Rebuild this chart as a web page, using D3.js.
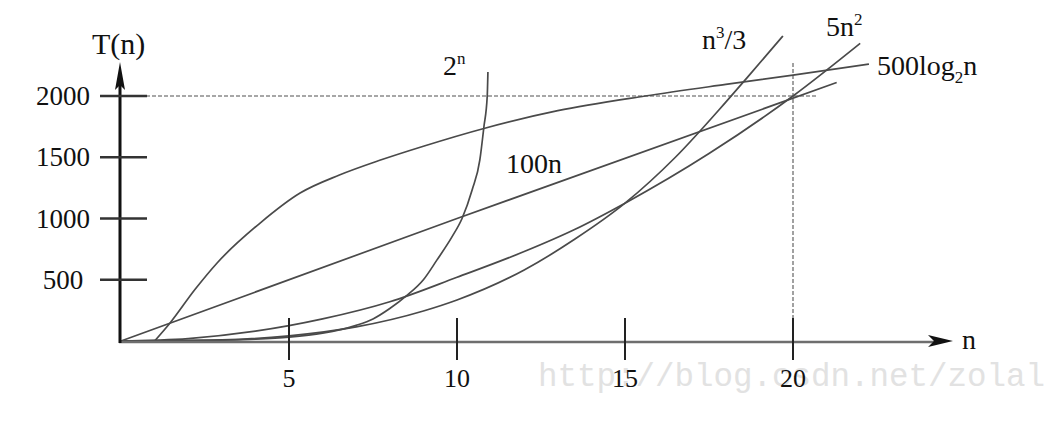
<!DOCTYPE html>
<html><head><meta charset="utf-8">
<script src="https://cdn.jsdelivr.net/npm/d3@7"></script>
<style>
html,body{margin:0;padding:0;background:#fff;}
svg{display:block;}
text{font-family:"Liberation Serif","Times New Roman",serif;fill:#111;}
</style></head>
<body>
<svg id="chart" width="1060" height="422"></svg>
<script>
// ---- data ----
const xTicks = [5, 10, 15, 20];
const yTicks = [500, 1000, 1500, 2000];

const nLog = [1, 1.46, 2.2, 2.86, 4.14, 5.33, 6.5, 7.7, 9, 10.8, 13, 15.6, 18, 20, 22.26];
const tLog = [0, 147, 420, 637, 963, 1208, 1355, 1475, 1590, 1735, 1880, 2000, 2095, 2171, 2261];

const nLin = [0, 10, 21.3];
const tLin = [0, 1000, 2110];

const nSq = [0, 2, 4, 5, 6, 8, 10, 12, 13.5, 15, 17.5, 20, 22];
const tSq = [0, 20, 80, 125, 180, 320, 520, 730, 910, 1125, 1530, 2000, 2430];

const nCube = [0, 3, 5, 7, 9, 10, 12, 13.5, 15, 16.5, 18, 18.7, 19.7];
const tCube = [0, 9, 42, 115, 245, 335, 580, 830, 1125, 1500, 1950, 2170, 2490];

const nExp = [0, 2, 4, 5, 6, 7, 7.5, 8, 8.5, 9, 9.4, 9.85, 10.15, 10.45, 10.68, 10.8, 10.9, 10.92];
const tExp = [1, 4, 16, 32, 64, 128, 180, 265, 370, 500, 660, 850, 1000, 1233, 1478, 1747, 2000, 2196];

// ---- drawing ----
const svg = d3.select("#chart");
const x = d3.scaleLinear().domain([0, 20]).range([121, 793]);
const y = d3.scaleLinear().domain([0, 2000]).range([341, 96]);

// watermark (sits behind everything, as in the source image)
svg.append("text").attr("x", 538).attr("y", 386)
  .attr("textLength", 507).attr("lengthAdjust", "spacingAndGlyphs")
  .style("font-family", "'Liberation Mono', monospace").style("font-size", "34px")
  .style("fill", "#e2e2e2").text("http://blog.csdn.net/zolal");

// dotted guides
svg.append("line").attr("x1", 128).attr("x2", 817).attr("y1", y(2000)).attr("y2", y(2000))
  .attr("stroke", "#8a8a8a").attr("stroke-width", 1.6).attr("stroke-dasharray", "4,2");
svg.append("line").attr("x1", x(20)).attr("x2", x(20)).attr("y1", 63).attr("y2", 318)
  .attr("stroke", "#8a8a8a").attr("stroke-width", 1.6).attr("stroke-dasharray", "4,2");

// curves
const series = [[nLog, tLog], [nLin, tLin], [nSq, tSq], [nCube, tCube], [nExp, tExp]];
const line = d3.line().x(d => x(d[0])).y(d => y(d[1])).curve(d3.curveMonotoneX);
series.forEach(([ns, ts]) => {
  svg.append("path").datum(ns.map((n, i) => [n, ts[i]]))
    .attr("d", line).attr("fill", "none").attr("stroke", "#4a4a4a").attr("stroke-width", 1.7);
});

// x axis
svg.append("line").attr("x1", 119).attr("x2", 940).attr("y1", 342).attr("y2", 342)
  .attr("stroke", "#6e6e6e").attr("stroke-width", 2.6);
svg.append("path").attr("d", "M953,341 L928,335 L934,341 L928,347 Z").attr("fill", "#111");
svg.append("text").attr("x", 962).attr("y", 349).style("font-size", "28px").text("n");

// x ticks
const gx = svg.append("g");
xTicks.forEach(t => {
  gx.append("line").attr("x1", x(t)).attr("x2", x(t)).attr("y1", 318).attr("y2", 360)
    .attr("stroke", "#222").attr("stroke-width", 2);
  gx.append("text").attr("x", x(t)).attr("y", 387).attr("text-anchor", "middle")
    .style("font-size", "26px").text(t);
});

// y axis
svg.append("line").attr("x1", 120).attr("x2", 120).attr("y1", 343).attr("y2", 78)
  .attr("stroke", "#111").attr("stroke-width", 3);
svg.append("path").attr("d", "M120,62 L125,90 L120,85 L115,90 Z").attr("fill", "#111");
svg.append("text").attr("x", 92).attr("y", 54).style("font-size", "30px").text("T(n)");

const gy = svg.append("g");
yTicks.forEach(t => {
  gy.append("line").attr("x1", 100).attr("x2", 147).attr("y1", y(t)).attr("y2", y(t))
    .attr("stroke", "#333").attr("stroke-width", 2.4);
  gy.append("text").attr("x", 63).attr("y", y(t) + 9).attr("text-anchor", "middle")
    .style("font-size", "27px").text(t);
});

// curve labels
function label(xp, yp, parts) {
  const t = svg.append("text").attr("x", xp).attr("y", yp).style("font-size", "28px");
  parts.forEach(p => {
    const s = t.append("tspan").text(p.t);
    if (p.sup) s.attr("dy", -11).style("font-size", "17px");
    if (p.sub) s.attr("dy", 8).style("font-size", "17px");
    if (p.back) s.attr("dy", p.back);
  });
}
label(443, 75, [{t: "2"}, {t: "n", sup: true}]);
label(702, 49, [{t: "n"}, {t: "3", sup: true}, {t: "/3", back: 11}]);
label(826, 36, [{t: "5n"}, {t: "2", sup: true}]);
label(877, 75, [{t: "500log"}, {t: "2", sub: true}, {t: "n", back: -8}]);
label(506, 173, [{t: "100n"}]);
</script>
</body></html>
